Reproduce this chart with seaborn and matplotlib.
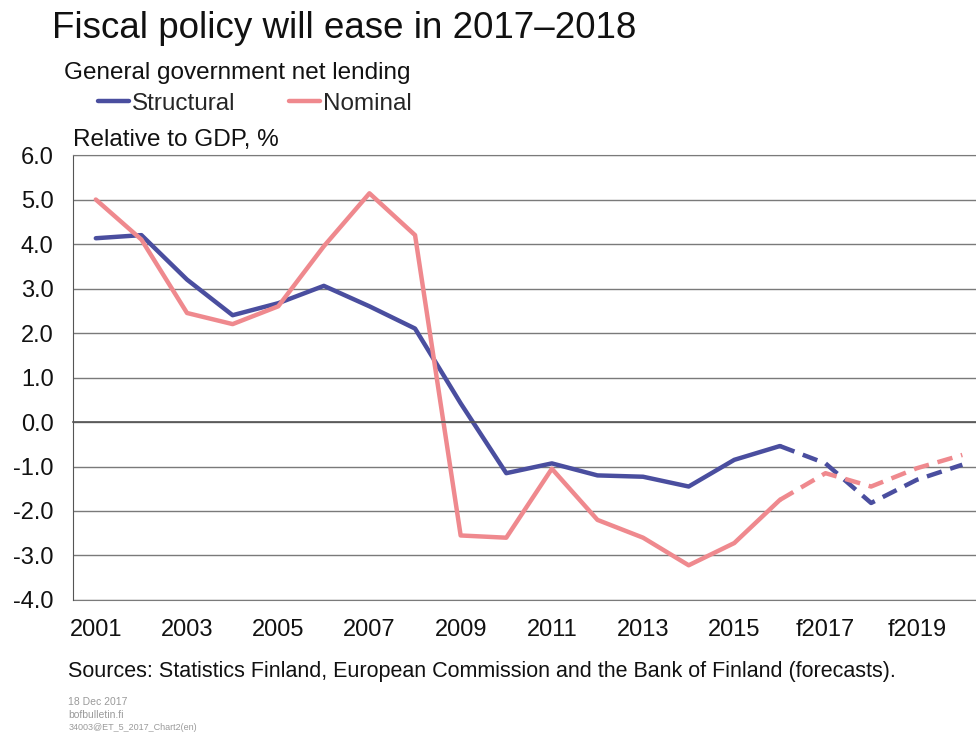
import numpy as np
import pandas as pd
import matplotlib
matplotlib.use('Agg')
import matplotlib.pyplot as plt
from matplotlib.lines import Line2D
import seaborn as sns

# Data (2017-2020 are forecasts)
years = list(range(2001, 2021))
structural = [4.13, 4.2, 3.2, 2.4, 2.67, 3.06, 2.6, 2.1, 0.42, -1.15,
              -0.93, -1.2, -1.23, -1.45, -0.85, -0.54, -0.93, -1.82, -1.3, -0.96]
nominal = [5.0, 4.1, 2.45, 2.2, 2.6, 3.95, 5.14, 4.2, -2.55, -2.6,
           -1.05, -2.2, -2.6, -3.22, -2.72, -1.75, -1.15, -1.45, -1.04, -0.74]
last_actual = 2016
tick_years = years[::2]
tick_labels = [str(y) if y <= last_actual else 'f' + str(y) for y in tick_years]

series_names = ['Structural', 'Nominal']
colors = {'Structural': '#4A4E9F', 'Nominal': '#EF898E'}


def build_frame():
    rows = []
    for name, vals in zip(series_names, [structural, nominal]):
        for y, v in zip(years, vals):
            if y <= last_actual:
                rows.append((name, 'actual', y, v))
            if y >= last_actual:
                rows.append((name, 'forecast', y, v))
    return pd.DataFrame(rows, columns=['series', 'segment', 'year', 'value'])


df = build_frame()

sns.set_style('white')
plt.rcParams['font.family'] = ['Liberation Sans', 'DejaVu Sans']

fig = plt.figure(figsize=(9.76, 7.4), dpi=100)
ax = fig.add_axes([0.0748, 0.1892, 0.9252, 0.6013])

sns.lineplot(data=df, x='year', y='value', hue='series', style='segment',
             palette=colors, dashes={'actual': '', 'forecast': (3.5, 2.0)},
             linewidth=3.2, legend=False, ax=ax, estimator=None, sort=False)

ax.set_xlim(2000.5, 2020.3)
ax.set_ylim(-4, 6)
ax.set_yticks(np.arange(-4, 7, 1))
ax.set_yticklabels([f'{v:.1f}' for v in np.arange(-4, 7, 1)])
ax.yaxis.grid(True, color='#7a7a7a', linewidth=1.0)
ax.set_axisbelow(True)
ax.tick_params(axis='y', length=0, pad=14, labelsize=17, labelcolor='#111111')
ax.set_xlabel('')
ax.set_ylabel('')

# category axis sits on the zero line, with ticks between the years
ax.spines['bottom'].set_position(('data', 0))
ax.spines['bottom'].set_color('#555555')
ax.spines['bottom'].set_linewidth(1.2)
ax.set_xticks([y + 0.5 for y in years[:-1]], minor=True)
ax.set_xticks([])
ax.tick_params(axis='x', which='minor', direction='in', length=7,
               width=1.0, color='#555555')
ax.spines['left'].set_color('#555555')
ax.spines['top'].set_color('#7a7a7a')
ax.spines['right'].set_visible(False)

sec = ax.secondary_xaxis(0)
sec.set_xticks(tick_years, tick_labels)
sec.tick_params(length=0, pad=14, labelsize=17, labelcolor='#111111')
sec.spines['bottom'].set_color('#7a7a7a')

fig.text(0.053, 0.948, 'Fiscal policy will ease in 2017\u20132018',
         fontsize=26.5, va='baseline', color='#111111')
fig.text(0.066, 0.893, 'General government net lending',
         fontsize=17.5, va='baseline', color='#111111')
fig.text(0.075, 0.803, 'Relative to GDP, %',
         fontsize=17.5, va='baseline', color='#111111')

handles = [Line2D([], [], color=colors[n], linewidth=3.2) for n in series_names]
fig.legend(handles, series_names, loc='lower left',
           bbox_to_anchor=(0.1, 0.845), ncol=2, frameon=False,
           fontsize=17.5, handlelength=1.3, handletextpad=0.1,
           columnspacing=2.2, borderpad=0, borderaxespad=0)

fig.text(0.07, 0.085,
         'Sources: Statistics Finland, European Commission and the Bank of Finland (forecasts).',
         fontsize=15.5, va='baseline', color='#111111')
fig.text(0.07, 0.047, '18 Dec 2017', fontsize=7.5, va='baseline', color='#9a9a9a')
fig.text(0.07, 0.030, 'bofbulletin.fi', fontsize=7.5, va='baseline', color='#9a9a9a')
fig.text(0.07, 0.013, '34003@ET_5_2017_Chart2(en)', fontsize=6.5, va='baseline',
         color='#9a9a9a')

fig.savefig('out.png', dpi=100, facecolor='white')
